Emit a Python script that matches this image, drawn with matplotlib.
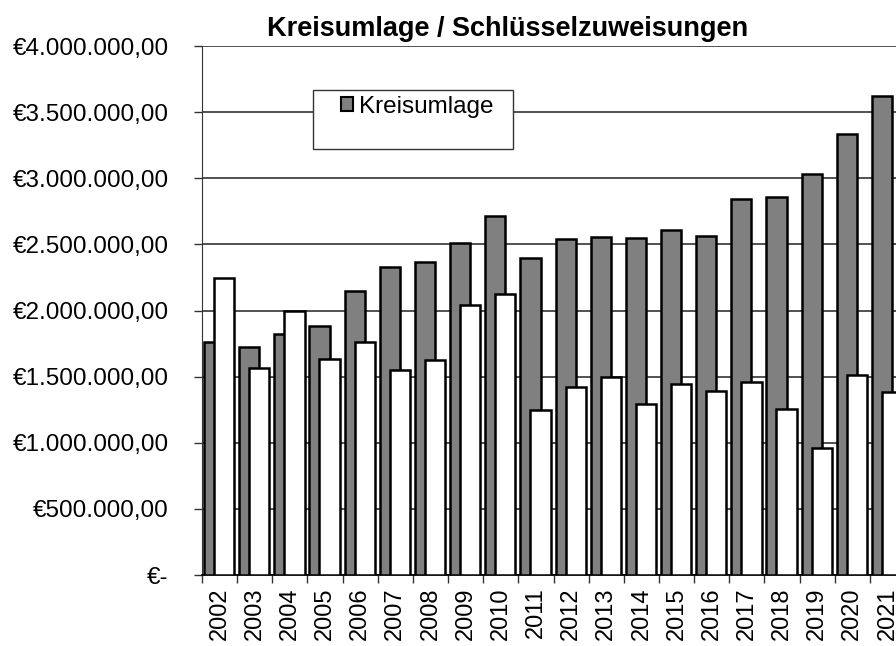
import numpy as np
import matplotlib.pyplot as plt
from matplotlib.patches import Patch, Rectangle
from matplotlib.ticker import FuncFormatter, MultipleLocator

plt.rcParams['font.family'] = ['Liberation Sans', 'DejaVu Sans']

years = [str(y) for y in range(2002, 2022)]
kreisumlage = [1.762, 1.726, 1.822, 1.885, 2.145, 2.327, 2.364, 2.508, 2.715, 2.399,
               2.543, 2.558, 2.550, 2.609, 2.563, 2.841, 2.856, 3.032, 3.335, 3.624]
schluessel = [2.248, 1.568, 1.994, 1.633, 1.762, 1.552, 1.626, 2.039, 2.127, 1.245,
              1.419, 1.500, 1.295, 1.447, 1.394, 1.457, 1.255, 0.963, 1.515, 1.381]
kreisumlage = np.array(kreisumlage) * 1e6
schluessel = np.array(schluessel) * 1e6

W, H = 896, 646
fig = plt.figure(figsize=(W / 100, H / 100), dpi=100)
# plot area runs past the right edge, as in the reference
ax = fig.add_axes([202 / W, 1 - 575 / H, 703 / W, 529 / H])

x = np.arange(len(years))
bw = 0.575
ax.bar(x - 0.155, kreisumlage, bw, color='#808080', edgecolor='black', linewidth=1.8, zorder=3)
ax.bar(x + 0.13, schluessel, bw, color='white', edgecolor='black', linewidth=1.8, zorder=4)

ax.set_xlim(-0.5, len(years) - 0.5)
ax.set_ylim(0, 4e6)
ax.yaxis.set_major_locator(MultipleLocator(5e5))


def euro(v, pos):
    if v == 0:
        return '€-'
    s = f'{v:,.2f}'
    s = s.replace(',', 'X').replace('.', ',').replace('X', '.')
    return '€' + s


ax.yaxis.set_major_formatter(FuncFormatter(euro))
ax.set_xticks(x)
ax.set_xticklabels(years, rotation=90)
ax.set_xticks(np.arange(len(years) + 1) - 0.5, minor=True)
ax.tick_params(axis='x', which='major', length=0, pad=9, labelsize=17)
ax.tick_params(axis='x', which='minor', length=6, width=1, color='#333333')
ax.tick_params(axis='y', length=6, width=1, color='#333333', pad=18, labelsize=17.5)

ax.grid(axis='y', color='#222222', linewidth=1.1, zorder=0)
ax.set_axisbelow(True)
for s in ['top', 'right']:
    ax.spines[s].set_visible(False)
ax.spines['left'].set_color('#333333')
ax.spines['bottom'].set_color('black')
ax.spines['bottom'].set_linewidth(1.3)

fig.text(508 / W, 1 - 29 / H, 'Kreisumlage / Schlüsselzuweisungen', ha='center', va='center',
         fontsize=19.5, fontweight='bold')

# legend box
fig.patches.append(Rectangle((313 / W, 1 - 149 / H), 200 / W, 59 / H, transform=fig.transFigure,
                             facecolor='white', edgecolor='#333333', linewidth=1, zorder=5))
fig.legend(handles=[Patch(facecolor='#808080', edgecolor='black', linewidth=1.5)],
           labels=['Kreisumlage'], loc='center left', bbox_to_anchor=(341 / W, 1 - 106.5 / H),
           frameon=False, fontsize=17.5, handlelength=0.5, handleheight=0.5,
           handletextpad=0.25, borderpad=0, borderaxespad=0).set_zorder(6)

fig.savefig('out.png', dpi=100)
